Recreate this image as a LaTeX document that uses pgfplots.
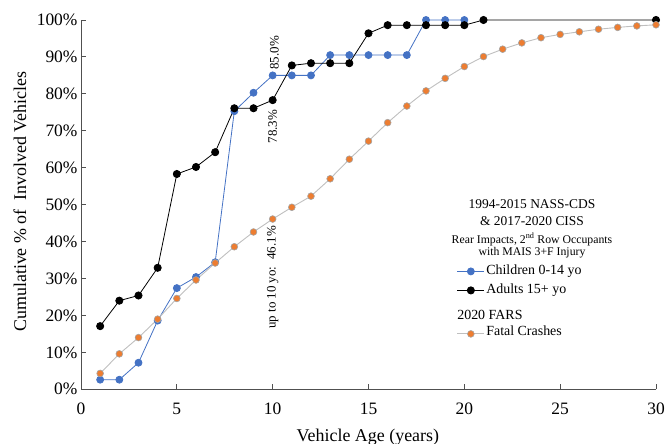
\documentclass[border=0pt]{standalone}
\usepackage{pgfplots}
\pgfplotsset{compat=1.18}
\usepackage{fontspec}
\setmainfont{Liberation Serif}
\definecolor{cblue}{RGB}{68,114,196}
\definecolor{corange}{RGB}{237,125,49}
\definecolor{cgray}{RGB}{191,191,191}
\definecolor{cedge}{RGB}{165,165,165}
\definecolor{caxis}{RGB}{80,80,80}
\begin{document}
\begin{tikzpicture}
\useasboundingbox (0,0) rectangle (667bp,444bp);
\begin{axis}[
  at={(81bp,54.7bp)}, anchor=south west,
  scale only axis, width=575bp, height=369.3bp,
  xmin=0, xmax=30, ymin=0, ymax=100,
  axis lines=left, axis line style={-, caxis, line width=0.9bp},
  tick align=inside, major tick length=5bp,
  tick style={caxis, line width=0.9bp},
  xtick={0,5,...,30}, ytick={0,10,...,100},
  yticklabel={\pgfmathprintnumber[assume math mode=true]{\tick}\%},
  xticklabel={\pgfmathprintnumber[assume math mode=true]{\tick}},
  ticklabel style={font=\fontsize{17.5}{20}\selectfont},
  xticklabel style={yshift=-10bp},
  ylabel={Cumulative \%\ of \ Involved Vehicles},
  xlabel={Vehicle Age (years)},
  label style={font=\fontsize{18}{21}\selectfont},
  ylabel style={at={(axis description cs:-0.106,0.5085)}, anchor=center},
  xlabel style={at={(axis description cs:0.499,-0.1416)}, anchor=base},
  clip=false,
  legend style={at={(axis description cs:0.6534,0.3455)}, anchor=north west,
    draw=none, fill=none, inner sep=0pt, row sep=0pt,
    font=\fontsize{14}{16}\selectfont,
    nodes={inner sep=1.5bp, text height=11bp, text depth=5bp}},
  legend cell align=left,
  legend image code/.code={\draw[mark repeat=2,mark phase=2] plot coordinates {(0bp,0bp) (13.5bp,0bp) (27bp,0bp)};},
]
\addplot[cblue, line width=0.8bp, mark=*, mark size=3.5bp, mark options={fill=cblue, draw=cblue}] coordinates {
(1,2.6)(2,2.6)(3,7.2)(4,18.6)(5,27.4)(6,30.4)(7,34.4)(8,75.3)(9,80.3)(10,85.0)(11,85.0)(12,85.0)(13,90.5)(14,90.5)(15,90.5)(16,90.5)(17,90.5)(18,100)(19,100)(20,100)};
\addlegendentry{Children 0-14 yo}
\addplot[black, line width=0.8bp, mark=*, mark size=3.6bp, mark options={fill=black, draw=black}] coordinates {
(1,17.1)(2,24.0)(3,25.4)(4,32.9)(5,58.3)(6,60.2)(7,64.2)(8,76.1)(9,76.1)(10,78.3)(11,87.7)(12,88.3)(13,88.3)(14,88.3)(15,96.4)(16,98.6)(17,98.6)(18,98.6)(19,98.6)(20,98.6)(21,100)(30,100)};
\addlegendentry{Adults 15+ yo}
\addlegendimage{empty legend}
\addlegendentry[text height=18bp]{\hspace*{-29bp}2020 FARS}
\addplot[cgray, line width=0.9bp, mark=*, mark size=3.4bp, mark options={fill=corange, draw=cedge, line width=0.6bp}] coordinates {
(1,4.3)(2,9.6)(3,14.0)(4,19.0)(5,24.6)(6,29.6)(7,34.2)(8,38.6)(9,42.6)(10,46.1)(11,49.3)(12,52.3)(13,57.0)(14,62.3)(15,67.2)(16,72.2)(17,76.7)(18,80.8)(19,84.2)(20,87.4)(21,90.1)(22,92.1)(23,93.8)(24,95.2)(25,96.1)(26,96.8)(27,97.5)(28,98.0)(29,98.4)(30,98.7)};
\addlegendentry[text height=8bp]{Fatal Crashes}
\node[font=\fontsize{13.5}{15}\selectfont, anchor=center] at (axis cs:23.53,50.1) {1994-2015 NASS-CDS};
\node[font=\fontsize{13.5}{15}\selectfont, anchor=center] at (axis cs:23.53,45.5) {\& 2017-2020 CISS};
\node[font=\fontsize{11.8}{13}\selectfont, anchor=center] at (axis cs:23.53,40.6) {Rear Impacts, 2\textsuperscript{nd} Row Occupants};
\node[font=\fontsize{11.8}{13}\selectfont, anchor=center] at (axis cs:23.53,37.0) {with MAIS 3+F Injury};
\node[font=\fontsize{13}{15}\selectfont, rotate=90, anchor=center] at (axis cs:10.09,91.1) {85.0\%};
\node[font=\fontsize{13}{15}\selectfont, rotate=90, anchor=center] at (axis cs:10.0,71.1) {78.3\%};
\node[font=\fontsize{13}{15}\selectfont, rotate=90, anchor=center] at (axis cs:10.0,30.3) {up to 10 yo:\hspace{7bp}46.1\%};
\end{axis}
\end{tikzpicture}
\end{document}
